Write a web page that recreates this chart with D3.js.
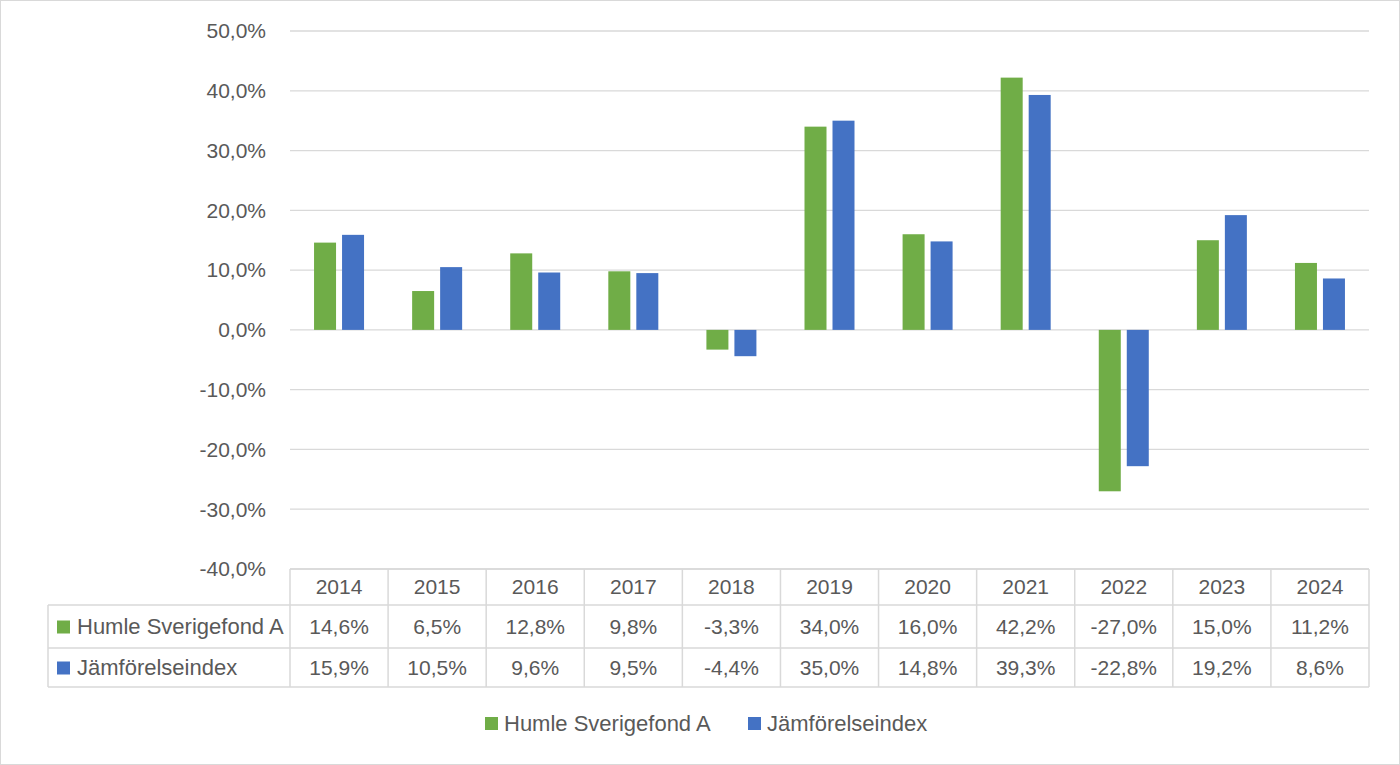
<!DOCTYPE html>
<meta charset="utf-8">
<script src="https://d3js.org/d3.v7.min.js"></script>
<style>
body { margin: 0; background: #fff; }
text { font-family: "Liberation Sans", Arial, sans-serif; fill: #595959; }
</style>
<div id="chart"></div>
<script>
// data
var years = ["2014","2015","2016","2017","2018","2019","2020","2021","2022","2023","2024"];
var humle = [14.6, 6.5, 12.8, 9.8, -3.3, 34.0, 16.0, 42.2, -27.0, 15.0, 11.2];
var index = [15.9, 10.5, 9.6, 9.5, -4.4, 35.0, 14.8, 39.3, -22.8, 19.2, 8.6];
var seriesNames = ["Humle Sverigefond A", "Jämförelseindex"];
var colors = ["#70AD47", "#4472C4"];
var yTicks = [50, 40, 30, 20, 10, 0, -10, -20, -30, -40];

var W = 1400, H = 765;
var plotL = 290, plotR = 1369, plotT = 31, plotB = 569;
var numSize = 21, labSize = 22;
var fmt = function(v) { return v.toFixed(1).replace(".", ",") + "%"; };

var svg = d3.select("#chart").append("svg")
  .attr("width", W).attr("height", H);

// outer border
svg.append("rect")
  .attr("x", 0.5).attr("y", 0.5).attr("width", W - 1).attr("height", H - 1)
  .attr("fill", "#fff").attr("stroke", "#d9d9d9");

var x = d3.scaleBand().domain(years).range([plotL, plotR]);
var y = d3.scaleLinear().domain([-40, 50]).range([plotB, plotT]);

// gridlines
svg.selectAll(".grid").data(yTicks).enter().append("line")
  .attr("x1", plotL).attr("x2", plotR)
  .attr("y1", function(d) { return y(d); })
  .attr("y2", function(d) { return y(d); })
  .attr("stroke", "#d9d9d9").attr("stroke-width", 1.3);

// y labels
svg.selectAll(".ylab").data(yTicks).enter().append("text")
  .attr("x", 266).attr("y", function(d) { return y(d); })
  .attr("dy", "0.35em").attr("text-anchor", "end")
  .attr("font-size", numSize)
  .text(fmt);

// bars
var series = [humle, index];
var bw = 22;
series.forEach(function(vals, s) {
  svg.selectAll(".bar" + s).data(vals).enter().append("rect")
    .attr("x", function(d, i) {
      var c = x(years[i]) + x.bandwidth() / 2;
      return s === 0 ? c - 3 - bw : c + 3;
    })
    .attr("y", function(d) { return y(Math.max(0, d)); })
    .attr("width", bw)
    .attr("height", function(d) { return Math.abs(y(d) - y(0)); })
    .attr("fill", colors[s]);
});

// data table
var tableL = 48, rowY = [plotB, 605, 648, 687];
var lc = "#d9d9d9";
svg.append("line").attr("x1", plotL).attr("x2", plotR).attr("y1", rowY[0]).attr("y2", rowY[0]).attr("stroke", lc).attr("stroke-width", 1.5);
[1, 2, 3].forEach(function(r) {
  svg.append("line").attr("x1", tableL).attr("x2", plotR)
    .attr("y1", rowY[r]).attr("y2", rowY[r]).attr("stroke", lc).attr("stroke-width", 1.5);
});
svg.append("line").attr("x1", tableL).attr("x2", tableL).attr("y1", rowY[1]).attr("y2", rowY[3]).attr("stroke", lc).attr("stroke-width", 1.5);
var vx = years.map(function(d) { return x(d); }).concat([plotR]);
svg.selectAll(".vline").data(vx).enter().append("line")
  .attr("x1", function(d) { return d; }).attr("x2", function(d) { return d; })
  .attr("y1", rowY[0]).attr("y2", rowY[3]).attr("stroke", lc).attr("stroke-width", 1.5);

// header years
svg.selectAll(".yr").data(years).enter().append("text")
  .attr("x", function(d) { return x(d) + x.bandwidth() / 2; })
  .attr("y", (rowY[0] + rowY[1]) / 2).attr("dy", "0.35em")
  .attr("text-anchor", "middle").attr("font-size", numSize)
  .text(function(d) { return d; });

// row values + row labels
series.forEach(function(vals, s) {
  var cy = (rowY[s + 1] + rowY[s + 2]) / 2;
  svg.selectAll(".val" + s).data(vals).enter().append("text")
    .attr("x", function(d, i) { return x(years[i]) + x.bandwidth() / 2; })
    .attr("y", cy).attr("dy", "0.35em")
    .attr("text-anchor", "middle").attr("font-size", numSize)
    .text(fmt);
  svg.append("rect")
    .attr("x", 57).attr("y", cy - 6).attr("width", 13).attr("height", 13)
    .attr("fill", colors[s]);
  svg.append("text")
    .attr("x", 77).attr("y", cy).attr("dy", "0.35em")
    .attr("font-size", labSize)
    .text(seriesNames[s]);
});

// legend
var legX = [485, 748];
seriesNames.forEach(function(n, s) {
  svg.append("rect")
    .attr("x", legX[s]).attr("y", 717).attr("width", 13).attr("height", 13)
    .attr("fill", colors[s]);
  svg.append("text")
    .attr("x", legX[s] + 19).attr("y", 723).attr("dy", "0.35em")
    .attr("font-size", labSize)
    .text(n);
});
</script>
